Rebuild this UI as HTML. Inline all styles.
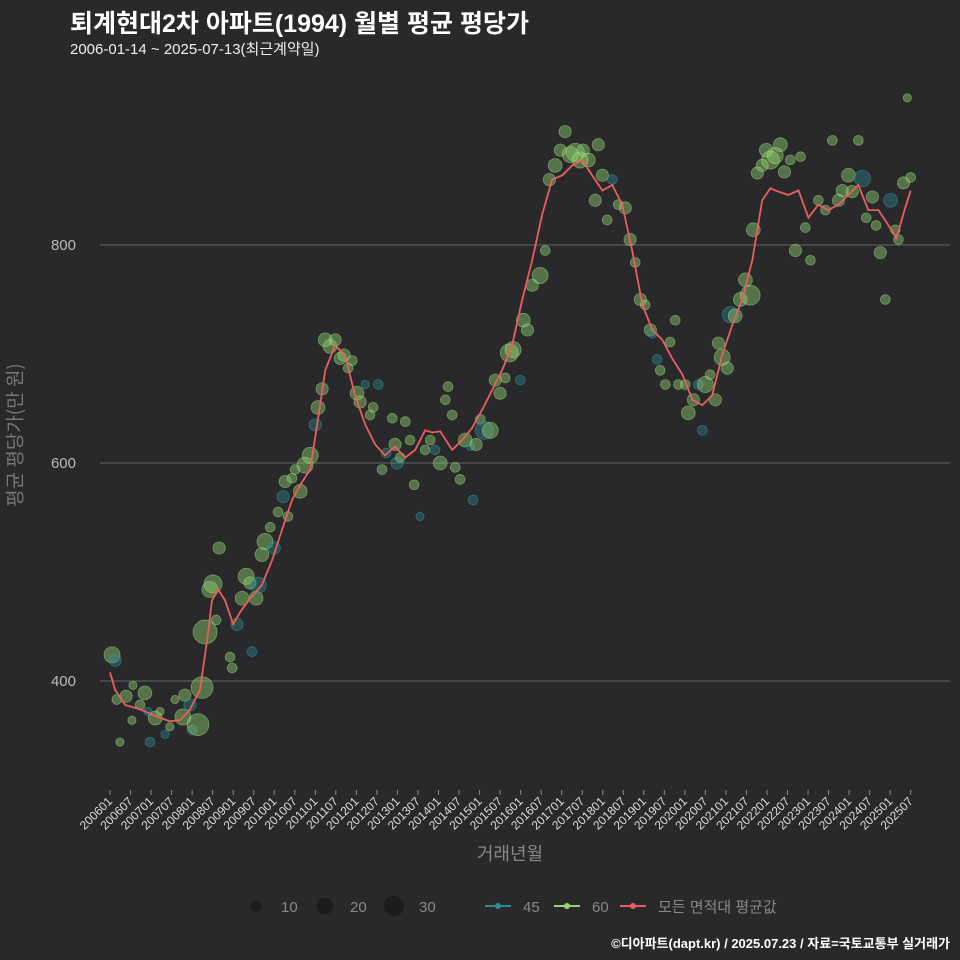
<!DOCTYPE html>
<html><head><meta charset="utf-8">
<style>
body{margin:0;background:#29292b;}
#wrap{position:relative;width:960px;height:960px;background:#29292b;font-family:"Liberation Sans","Noto Sans CJK KR",sans-serif;overflow:hidden}
.t{position:absolute;white-space:nowrap}
</style></head><body>
<div id="wrap">
<div class="t" style="left:70px;top:4px;font-size:25px;font-weight:bold;color:#fff">퇴계현대2차 아파트(1994) 월별 평균 평당가</div>
<div class="t" style="left:70px;top:38px;font-size:15px;color:#eee">2006-01-14 ~ 2025-07-13(최근계약일)</div>
<div class="t" style="left:14px;top:435px;font-size:19px;color:#777;font-family:'Noto Sans CJK KR',sans-serif;transform:translate(-50%,-50%) rotate(-90deg);transform-origin:center;">평균 평당가(만 원)</div>
<div class="t" style="left:510px;top:840px;font-size:18px;color:#888;font-family:'Noto Sans CJK KR',sans-serif;transform:translateX(-50%)">거래년월</div>
<div class="t" style="right:10px;top:933px;font-size:13px;font-weight:bold;color:#fff">©디아파트(dapt.kr) / 2025.07.23 / 자료=국토교통부 실거래가</div>
<svg id="chart" width="960" height="960" style="position:absolute;left:0;top:0"></svg>
</div>
<script>
const yTicks=[400,600,800];
const lineMonths=[0,1.5,4.4,8.8,13.2,17.5,20.5,23.4,26.3,28.4,29.8,31.6,33.6,36,38,41,44.4,47.4,50.3,53.2,55.6,58.5,60.8,62.9,65.8,68.7,71.6,74.6,77.5,80.4,83.3,86.3,89.2,92.1,94.2,96.5,100,102.9,105.8,108.8,111.7,114.6,117.5,120.5,123.4,126.3,129.2,132.2,135.1,138,140.9,143.9,146.8,149.7,152.6,155.6,158.5,161.4,164.3,167.3,170.2,173.1,176,178.9,181.9,184.8,187.7,190.6,193,195.3,198.2,201.2,204.1,207,209.9,212.9,215.8,218.7,221.6,224.6,227.5,229.8,232.2,234];
const lineValues=[408,392,378,374,368,363,364,374,392,438,474,484,474,452,463,476,488,511,539,566,580,594,640,685,708,699,662,635,617,607,615,605,612,630,628,629,612,621,632,649,667,685,708,750,786,828,860,864,873,878,864,850,855,837,795,745,722,713,696,681,658,653,662,699,727,750,786,841,852,849,846,850,825,837,832,837,846,855,832,832,818,806,832,850];
const ptMonths=[0.6,1.5,2,2.9,4.7,6.7,6.4,8.8,10.2,11.1,11.7,13.2,14.6,16.1,17.5,19,21.3,21.9,23.4,24,25.7,26.9,27.8,29.2,30.1,31,31.9,35.1,35.7,37.1,38.6,39.8,40.9,41.5,42.7,43.3,44.4,45.3,46.8,48,49.1,50.6,51.2,52,53.2,54.1,55.6,57,58.5,60,60.8,62,62.9,64.3,65.8,67.3,68.4,69.6,70.8,72.2,73.1,74.6,76,76.9,78.4,79.5,80.7,82.5,83.3,83.9,84.8,86.3,87.7,88.9,90.6,92.1,93.6,95,96.5,98,98.8,100,100.9,102.3,103.8,105.3,106.1,107,108.2,109.4,111.1,112.6,114,115.5,116.7,117.8,119.9,120.8,122,123.4,125.7,127.2,128.4,130.1,131.6,133,134.5,136,137.4,138.3,139.8,141.8,142.7,143.9,145.3,146.8,148.5,150.6,152,153.5,155,156.4,157.9,158.5,159.9,160.8,162.3,163.7,165.2,166.1,168.1,169,170.5,171.9,173.1,174,175.4,176.9,177.8,178.9,180.4,181.3,182.7,184.2,185.7,187.1,188,189.2,190.6,191.8,193,194.4,195.9,197.1,198.8,200.3,201.8,203.2,204.7,207,209.1,211.1,212.9,214,215.8,216.9,218.7,219.9,221,222.8,223.9,225.1,226.6,228.1,229.5,230.4,231.9,233,234];
const ptValues=[424,419,383,344,386,396,364,378,389,372,344,366,372,351,358,383,367,387,378,355,360,394,445,484,489,456,522,422,412,452,476,496,490,427,476,488,516,528,541,522,555,569,583,551,586,594,574,598,607,635,651,668,713,707,713,696,699,687,694,664,656,672,644,651,672,594,609,641,617,600,605,638,621,580,551,612,621,612,600,658,670,644,596,585,621,615,566,617,640,630,630,676,664,678,701,704,676,731,722,763,772,795,860,873,887,904,883,885,878,887,878,841,892,864,823,860,837,834,805,784,750,745,722,719,695,685,672,711,731,672,672,646,658,672,630,672,681,658,710,697,687,736,735,750,768,754,814,866,873,887,878,882,892,867,878,795,881,816,786,841,832,896,841,850,864,849,896,861,825,844,818,793,750,841,814,805,857,935,862];
const ptCounts=[19,11,7,5,11,5,5,7,14,5,7,14,5,5,5,5,19,11,11,7,35,35,42,19,24,7,11,7,7,11,14,19,11,7,14,19,14,19,7,11,7,11,11,7,7,7,14,19,19,11,14,11,14,14,11,11,11,7,7,14,11,5,7,7,7,7,7,7,11,11,7,7,7,7,5,7,7,7,14,7,7,7,7,7,14,5,7,11,7,24,19,11,11,7,24,19,7,14,11,11,19,7,11,14,11,11,19,24,19,11,14,11,11,11,7,7,7,11,11,7,11,7,11,7,7,7,7,7,7,7,7,14,11,7,7,19,7,11,11,19,11,19,14,14,14,29,14,11,11,14,24,19,14,11,7,11,7,7,7,7,7,7,11,11,14,11,7,19,7,11,7,11,7,14,7,7,11,5,7];
const ptSeries=[60,45,60,60,60,60,60,60,60,45,45,60,60,45,60,60,60,60,45,45,60,60,60,60,60,60,60,60,60,45,60,60,60,45,60,45,60,60,60,45,60,45,60,60,60,60,60,60,60,45,60,60,60,60,60,60,60,60,60,60,60,45,60,60,45,60,45,60,60,45,60,60,60,60,45,60,60,45,60,60,60,60,60,60,60,45,45,60,60,45,60,60,60,60,60,60,45,60,60,60,60,60,60,60,60,60,60,60,60,60,60,60,60,60,60,45,60,60,60,60,60,60,60,45,45,60,60,60,60,60,60,60,60,45,45,60,60,60,60,60,60,45,60,60,60,60,60,60,60,60,60,60,60,60,60,60,60,60,60,60,60,60,60,60,60,60,60,45,60,60,60,60,60,45,60,60,60,60,60,60,60];
const xTickLabels=[];
for(let y=2006;y<=2025;y++){xTickLabels.push(y+'01');xTickLabels.push(y+'07');}
const legendSizes=[10,20,30];

const NS='http://www.w3.org/2000/svg';
const svg=document.getElementById('chart');
const X=m=>110+m*(800.7/234);
const Y=v=>681-(v-400)*1.09;
const R=n=>1.85*Math.sqrt(n);
function mk(tag,attrs){const e=document.createElementNS(NS,tag);for(const k in attrs)e.setAttribute(k,attrs[k]);svg.appendChild(e);return e;}

yTicks.forEach(v=>{
  const g=mk('line',{x1:100,x2:950,y1:Y(v),y2:Y(v),stroke:'#5a5a5a','stroke-width':1.2});
  
  
  const t=mk('text',{x:76,y:Y(v)+5,'text-anchor':'end',fill:'#bbb','font-size':15,'font-family':'Liberation Sans, sans-serif'});
  t.textContent=v;
  
  
});
xTickLabels.forEach((lab,i)=>{
  const x=X(i*6);
  const tk=mk('line',{x1:x,x2:x,y1:790,y2:795,stroke:'#888','stroke-width':1});
  
  
  const t=mk('text',{x:x+3,y:802,'text-anchor':'end',fill:'#ddd','font-size':12,'font-family':'Liberation Sans, sans-serif',transform:`rotate(-45 ${x+3} 802)`});
  t.textContent=lab;
  
  
});
ptMonths.forEach((m,i)=>{
  const g=ptSeries[i]===60;
  const c=mk('circle',{cx:X(m),cy:Y(ptValues[i]),r:R(ptCounts[i]),fill:g?'#93d86f':'#2a8a95','fill-opacity':g?0.42:0.4,stroke:g?'#a8e08a':'#3aa0aa','stroke-opacity':0.5,'stroke-width':0.8});
  
  
});
const p=mk('path',{d:lineMonths.map((m,i)=>(i?'L':'M')+X(m).toFixed(1)+' '+Y(lineValues[i]).toFixed(1)).join(' '),fill:'none',stroke:'#e8605e','stroke-width':1.8});



const lx=[256,325,394];
legendSizes.forEach((s,i)=>{
  const c=mk('circle',{cx:lx[i],cy:906,r:R(s),fill:'#1c1c1e'});
  
  
  const t=mk('text',{x:lx[i]+25,y:912,fill:'#888','font-size':15,'font-family':'Liberation Sans, sans-serif'});
  t.textContent=s;
  
  
});
const leg=[[498,'#2a8a95','45'],[567,'#93d86f','60'],[633,'#e8605e','모든 면적대 평균값']];
leg.forEach(([x,col,lab])=>{
  const l=mk('line',{x1:x-13,x2:x+13,y1:906,y2:906,stroke:col,'stroke-width':2});
  
  
  const c=mk('circle',{cx:x,cy:906,r:3,fill:col});
  
  
  const t=mk('text',{x:x+25,y:912,fill:'#888','font-size':15,'font-family':'Liberation Sans, Noto Sans CJK KR, sans-serif'});
  t.textContent=lab;
  
  
});
</script>
</body></html>
